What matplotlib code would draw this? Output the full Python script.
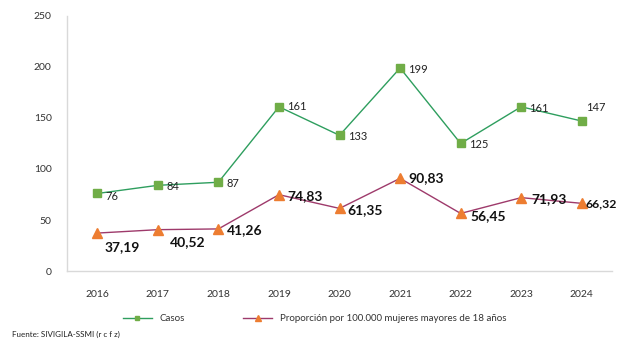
import matplotlib
matplotlib.use("Agg")
import matplotlib.pyplot as plt

years = ["2016", "2017", "2018", "2019", "2020", "2021", "2022", "2023", "2024"]
casos = [76, 84, 87, 161, 133, 199, 125, 161, 147]
proporcion = [37.19, 40.52, 41.26, 74.83, 61.35, 90.83, 56.45, 71.93, 66.32]
yticks = [0, 50, 100, 150, 200, 250]

plt.rcParams["font.family"] = ["Lato", "DejaVu Sans"]

fig = plt.figure(figsize=(6.17, 3.43), dpi=100)
ax = fig.add_axes([0.1086, 0.2099, 0.8834, 0.7435])

x = list(range(len(years)))
ax.plot(x, casos, color="#2E9E5E", lw=1.0, marker="s", ms=5.5,
        mfc="#70AD47", mec="#70AD47", label="Casos", zorder=3)
ax.plot(x, proporcion, color="#9E3A6B", lw=1.0, marker="^", ms=6.5,
        mfc="#ED7D31", mec="#ED7D31",
        label="Proporción por 100.000 mujeres mayores de 18 años", zorder=3)

# label offsets in points (dx, dy) and sizes
casos_off = [(6, -2), (6, -1), (6, -1), (6, 0), (6, -1), (6, -1), (6, -1), (6, -1), (3, 10)]
prop_off = [(5, -10), (9, -9), (6, -1), (6, -1), (6, -1), (6, 0), (7, -2), (7, -1), (3, 0)]
prop_size = [10, 10, 10, 10, 10, 10, 10, 10, 8.8]

for i, v in enumerate(casos):
    ax.annotate(f"{v}", (i, v), xytext=casos_off[i], textcoords="offset points",
                ha="left", va="center", fontsize=8, color="#222222")
for i, v in enumerate(proporcion):
    ax.annotate(f"{v:.2f}".replace(".", ","), (i, v), xytext=prop_off[i],
                textcoords="offset points", ha="left", va="center",
                fontsize=prop_size[i], fontweight="bold", color="#111111",
                annotation_clip=False, clip_on=False)

ax.set_xlim(-0.5, len(years) - 0.5)
ax.set_ylim(0, 250)
ax.set_xticks(x)
ax.set_xticklabels(years)
ax.set_yticks(yticks)
ax.tick_params(axis="both", length=0, labelsize=7.5, colors="#333333")
ax.tick_params(axis="x", pad=14)
ax.tick_params(axis="y", pad=11)
for s in ["top", "right"]:
    ax.spines[s].set_visible(False)
for s in ["left", "bottom"]:
    ax.spines[s].set_color("#D9D9D9")
    ax.spines[s].set_linewidth(1.0)

leg = fig.legend(loc="center", bbox_to_anchor=(0.51, 0.07), ncol=2, frameon=False,
                 fontsize=7, handlelength=3, columnspacing=6, markerscale=0.6)
for t in leg.get_texts():
    t.set_color("#333333")

fig.text(0.02, 0.015, "Fuente: SIVIGILA-SSMI (r c f z)", fontsize=5.8,
         color="#222222", ha="left", va="bottom")

fig.savefig("out.png", dpi=100)
